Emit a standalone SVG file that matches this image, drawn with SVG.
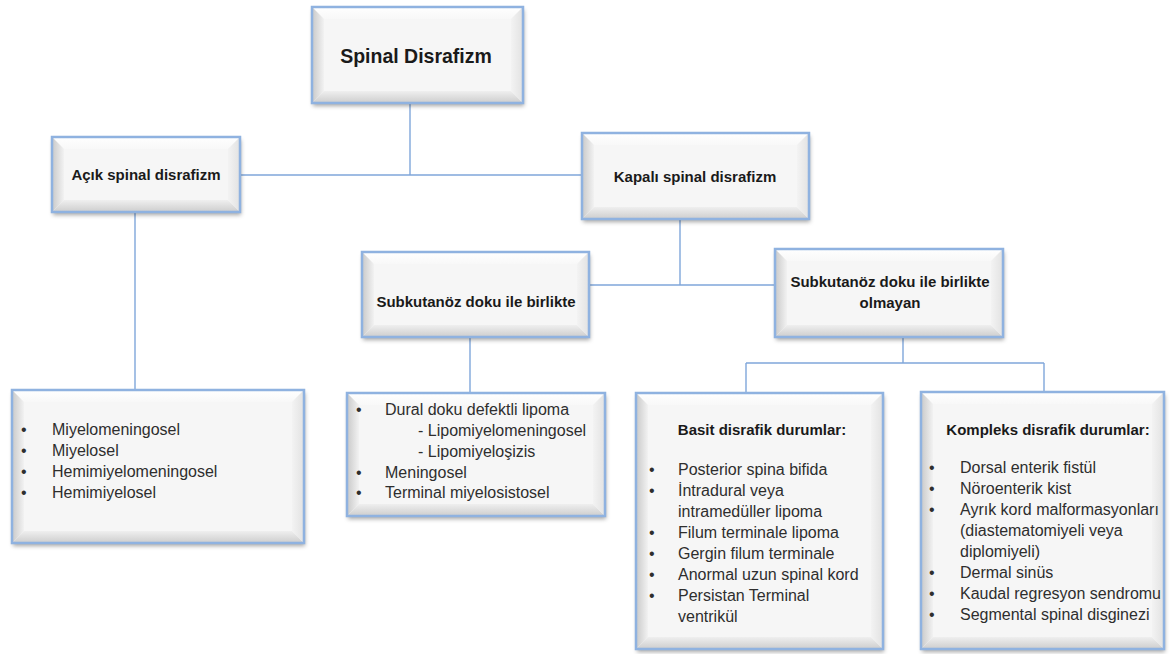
<svg xmlns="http://www.w3.org/2000/svg" width="1173" height="654" viewBox="0 0 1173 654">
<defs>
<filter id="shadow" x="-10%" y="-10%" width="120%" height="130%">
<feDropShadow dx="1" dy="3" stdDeviation="2" flood-color="#000" flood-opacity="0.35"/>
</filter>
<linearGradient id="gL" x1="0" y1="0" x2="1" y2="0"><stop offset="0" stop-color="#c9c9c9"/><stop offset="1" stop-color="#f2f2f2"/></linearGradient>
<linearGradient id="gR" x1="0" y1="0" x2="1" y2="0"><stop offset="0" stop-color="#f3f3f3"/><stop offset="1" stop-color="#e2e2e2"/></linearGradient>
<linearGradient id="gB" x1="0" y1="0" x2="0" y2="1"><stop offset="0" stop-color="#efefef"/><stop offset="1" stop-color="#cdcdcd"/></linearGradient>
<linearGradient id="gT" x1="0" y1="0" x2="0" y2="1"><stop offset="0" stop-color="#ffffff"/><stop offset="1" stop-color="#f8f8f8"/></linearGradient>
</defs>
<style>
.sh{fill:#f5f5f5;filter:url(#shadow)}
.c{fill:#f6f6f6}
.t{fill:url(#gT)}
.l{fill:url(#gL)}
.r{fill:url(#gR)}
.b{fill:url(#gB)}
.bd{fill:none;stroke:#8fb2e0;stroke-width:2.5}
.ttl{font-family:"Liberation Sans",Arial,sans-serif;font-weight:bold;font-size:15px;fill:#1a1a1a;text-anchor:middle}
.big{font-size:19.5px}
.tx{font-family:"Liberation Sans",Arial,sans-serif;font-size:16px;fill:#2e2e2e}
.conn line{stroke:#7fa6da;stroke-width:1.4}
</style>

<g class="conn" id="connectors">
<line x1="410" y1="103" x2="410" y2="175"/>
<line x1="240" y1="175" x2="582" y2="175"/>
<line x1="135" y1="212" x2="135" y2="390"/>
<line x1="680" y1="219" x2="680" y2="285"/>
<line x1="589" y1="285" x2="775" y2="285"/>
<line x1="470" y1="337" x2="470" y2="393"/>
<line x1="903" y1="337" x2="903" y2="363"/>
<line x1="746" y1="363" x2="1044" y2="363"/>
<line x1="746" y1="363" x2="746" y2="393"/>
<line x1="1044" y1="363" x2="1044" y2="392"/>
</g>

<g id="spinal-disrafizm">
<rect class="sh" x="312" y="7" width="211" height="96"/>
<rect class="c" x="312" y="7" width="211" height="96"/>
<polygon class="t" points="312,7 523,7 511,19 324,19"/>
<polygon class="l" points="312,7 324,19 324,91 312,103"/>
<polygon class="b" points="312,103 324,91 511,91 523,103"/>
<polygon class="r" points="523,7 523,103 511,91 511,19"/>
<rect class="bd" x="312" y="7" width="211" height="96"/>
<text class="ttl big" x="416" y="63">Spinal Disrafizm</text>
</g>

<g id="acik">
<rect class="sh" x="52" y="137" width="188" height="75"/>
<rect class="c" x="52" y="137" width="188" height="75"/>
<polygon class="t" points="52,137 240,137 228,149 64,149"/>
<polygon class="l" points="52,137 64,149 64,200 52,212"/>
<polygon class="b" points="52,212 64,200 228,200 240,212"/>
<polygon class="r" points="240,137 240,212 228,200 228,149"/>
<rect class="bd" x="52" y="137" width="188" height="75"/>
<text class="ttl" x="146" y="180">Açık spinal disrafizm</text>
</g>

<g id="kapali">
<rect class="sh" x="582" y="133" width="227" height="86"/>
<rect class="c" x="582" y="133" width="227" height="86"/>
<polygon class="t" points="582,133 809,133 797,145 594,145"/>
<polygon class="l" points="582,133 594,145 594,207 582,219"/>
<polygon class="b" points="582,219 594,207 797,207 809,219"/>
<polygon class="r" points="809,133 809,219 797,207 797,145"/>
<rect class="bd" x="582" y="133" width="227" height="86"/>
<text class="ttl" x="695" y="182">Kapalı spinal disrafizm</text>
</g>

<g id="subkutanoz-ile">
<rect class="sh" x="362" y="252" width="227" height="85"/>
<rect class="c" x="362" y="252" width="227" height="85"/>
<polygon class="t" points="362,252 589,252 577,264 374,264"/>
<polygon class="l" points="362,252 374,264 374,325 362,337"/>
<polygon class="b" points="362,337 374,325 577,325 589,337"/>
<polygon class="r" points="589,252 589,337 577,325 577,264"/>
<rect class="bd" x="362" y="252" width="227" height="85"/>
<text class="ttl" x="476" y="307">Subkutanöz doku ile birlikte</text>
</g>

<g id="subkutanoz-olmayan">
<rect class="sh" x="775" y="249" width="228" height="88"/>
<rect class="c" x="775" y="249" width="228" height="88"/>
<polygon class="t" points="775,249 1003,249 991,261 787,261"/>
<polygon class="l" points="775,249 787,261 787,325 775,337"/>
<polygon class="b" points="775,337 787,325 991,325 1003,337"/>
<polygon class="r" points="1003,249 1003,337 991,325 991,261"/>
<rect class="bd" x="775" y="249" width="228" height="88"/>
<text class="ttl" x="890" y="287">Subkutanöz doku ile birlikte</text>
<text class="ttl" x="890" y="308">olmayan</text>
</g>

<g id="acik-list">
<rect class="sh" x="12" y="390" width="292" height="153"/>
<rect class="c" x="12" y="390" width="292" height="153"/>
<polygon class="t" points="12,390 304,390 292,402 24,402"/>
<polygon class="l" points="12,390 24,402 24,531 12,543"/>
<polygon class="b" points="12,543 24,531 292,531 304,543"/>
<polygon class="r" points="304,390 304,543 292,531 292,402"/>
<rect class="bd" x="12" y="390" width="292" height="153"/>
<g class="tx">
<text x="21" y="435">•</text><text x="52" y="435">Miyelomeningosel</text>
<text x="21" y="456">•</text><text x="52" y="456">Miyelosel</text>
<text x="21" y="477">•</text><text x="52" y="477">Hemimiyelomeningosel</text>
<text x="21" y="498">•</text><text x="52" y="498">Hemimiyelosel</text>
</g>
</g>

<g id="subkutanoz-ile-list">
<rect class="sh" x="347" y="393" width="258" height="123"/>
<rect class="c" x="347" y="393" width="258" height="123"/>
<polygon class="t" points="347,393 605,393 593,405 359,405"/>
<polygon class="l" points="347,393 359,405 359,504 347,516"/>
<polygon class="b" points="347,516 359,504 593,504 605,516"/>
<polygon class="r" points="605,393 605,516 593,504 593,405"/>
<rect class="bd" x="347" y="393" width="258" height="123"/>
<g class="tx">
<text x="356" y="415">•</text><text x="385" y="415">Dural doku defektli lipoma</text>
<text x="418" y="436">- Lipomiyelomeningosel</text>
<text x="418" y="457">- Lipomiyeloşizis</text>
<text x="356" y="478">•</text><text x="385" y="478">Meningosel</text>
<text x="356" y="498">•</text><text x="385" y="498">Terminal miyelosistosel</text>
</g>
</g>

<g id="basit">
<rect class="sh" x="636" y="393" width="247" height="256"/>
<rect class="c" x="636" y="393" width="247" height="256"/>
<polygon class="t" points="636,393 883,393 871,405 648,405"/>
<polygon class="l" points="636,393 648,405 648,637 636,649"/>
<polygon class="b" points="636,649 648,637 871,637 883,649"/>
<polygon class="r" points="883,393 883,649 871,637 871,405"/>
<rect class="bd" x="636" y="393" width="247" height="256"/>
<text class="ttl" x="762" y="435">Basit disrafik durumlar:</text>
<g class="tx">
<text x="649" y="475">•</text><text x="678" y="475">Posterior spina bifida</text>
<text x="649" y="496">•</text><text x="678" y="496">İntradural veya</text>
<text x="678" y="517">intramedüller lipoma</text>
<text x="649" y="538">•</text><text x="678" y="538">Filum terminale lipoma</text>
<text x="649" y="559">•</text><text x="678" y="559">Gergin filum terminale</text>
<text x="649" y="580">•</text><text x="678" y="580">Anormal uzun spinal kord</text>
<text x="649" y="601">•</text><text x="678" y="601">Persistan Terminal</text>
<text x="678" y="622">ventrikül</text>
</g>
</g>

<g id="kompleks">
<rect class="sh" x="921" y="392" width="243" height="257"/>
<rect class="c" x="921" y="392" width="243" height="257"/>
<polygon class="t" points="921,392 1164,392 1152,404 933,404"/>
<polygon class="l" points="921,392 933,404 933,637 921,649"/>
<polygon class="b" points="921,649 933,637 1152,637 1164,649"/>
<polygon class="r" points="1164,392 1164,649 1152,637 1152,404"/>
<rect class="bd" x="921" y="392" width="243" height="257"/>
<text class="ttl" x="1048" y="435">Kompleks disrafik durumlar:</text>
<g class="tx">
<text x="929" y="473">•</text><text x="960" y="473">Dorsal enterik fistül</text>
<text x="929" y="494">•</text><text x="960" y="494">Nöroenterik kist</text>
<text x="929" y="515">•</text><text x="960" y="515">Ayrık kord malformasyonları</text>
<text x="960" y="536">(diastematomiyeli veya</text>
<text x="960" y="557">diplomiyeli)</text>
<text x="929" y="578">•</text><text x="960" y="578">Dermal sinüs</text>
<text x="929" y="599">•</text><text x="960" y="599">Kaudal regresyon sendromu</text>
<text x="929" y="620">•</text><text x="960" y="620">Segmental spinal disginezi</text>
</g>
</g>
</svg>
